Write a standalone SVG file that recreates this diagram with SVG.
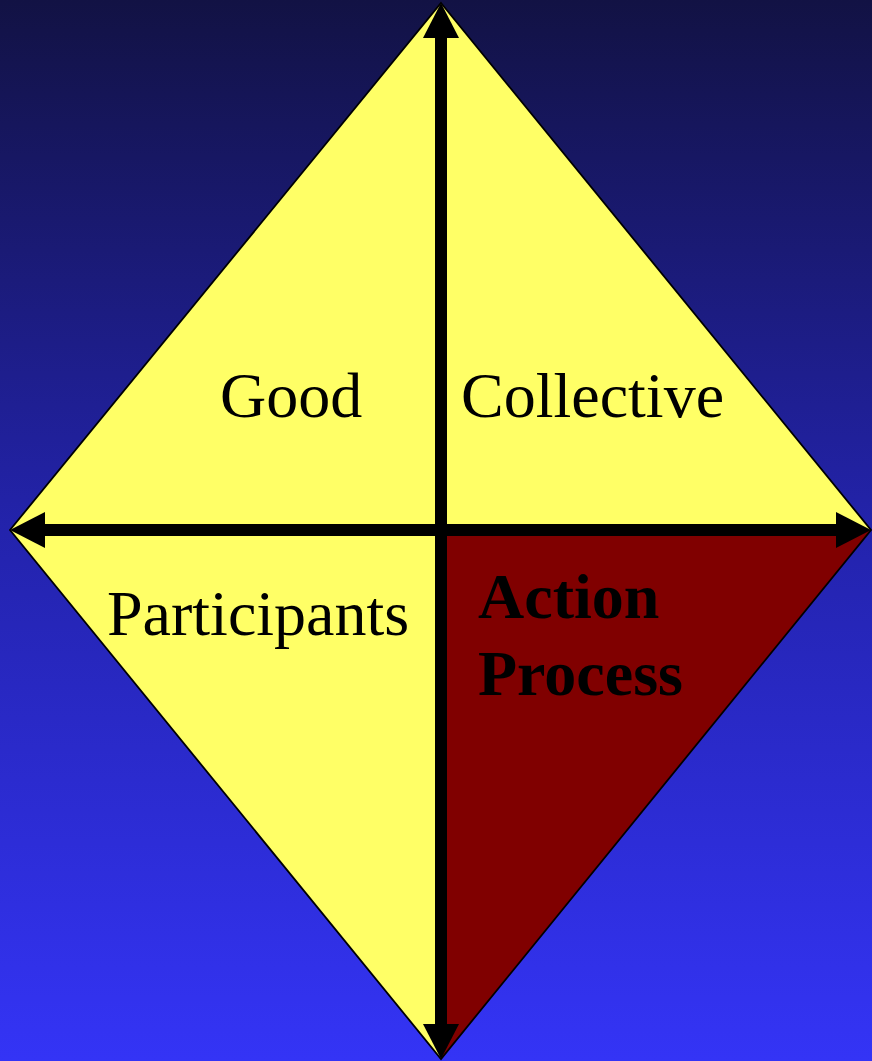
<svg xmlns="http://www.w3.org/2000/svg" width="872" height="1061" viewBox="0 0 872 1061">
  <defs>
    <linearGradient id="bg" x1="0" y1="0" x2="0" y2="1">
      <stop offset="0" stop-color="#121244"/>
      <stop offset="0.5" stop-color="#2323ac"/>
      <stop offset="1" stop-color="#3434f6"/>
    </linearGradient>
    <marker id="ah" markerUnits="userSpaceOnUse" markerWidth="36" markerHeight="36" viewBox="0 0 36 36" refX="0" refY="18" orient="auto-start-reverse">
      <path d="M0,0 L35,18 L0,36 z" fill="#000"/>
    </marker>
    <style>
      .q { fill: #ffff66; stroke: none; }
      .lbl { font-family: "Liberation Serif", "Times New Roman", serif; font-size: 64px; fill: #000; }
      .bold { font-weight: bold; }
      .axis { stroke: #000; stroke-width: 12; fill: none; }
    </style>
  </defs>
  <rect x="0" y="0" width="872" height="1061" fill="url(#bg)"/>
  <g id="diamond">
    <polygon class="q" points="441,3 871,530 441,1059 10,530"/>
    <polygon points="441,530 871,530 441,1059" fill="#800000"/>
    <polygon points="441,3 871,530 441,1059 10,530" fill="none" stroke="#000" stroke-width="1.8" stroke-linejoin="miter"/>
  </g>
  <g id="connectors">
    <line class="axis" x1="441" y1="38" x2="441" y2="1024" marker-start="url(#ah)" marker-end="url(#ah)"/>
    <line class="axis" x1="45" y1="530" x2="836" y2="530" marker-start="url(#ah)" marker-end="url(#ah)"/>
  </g>
  <g id="good"><text class="lbl" x="220" y="417">Good</text></g>
  <g id="collective"><text class="lbl" x="461" y="417">Collective</text></g>
  <g id="participants"><text class="lbl" x="107" y="635">Participants</text></g>
  <g id="action-process">
    <text class="lbl bold" x="478" y="618">Action</text>
    <text class="lbl bold" x="478" y="695">Process</text>
  </g>
</svg>
